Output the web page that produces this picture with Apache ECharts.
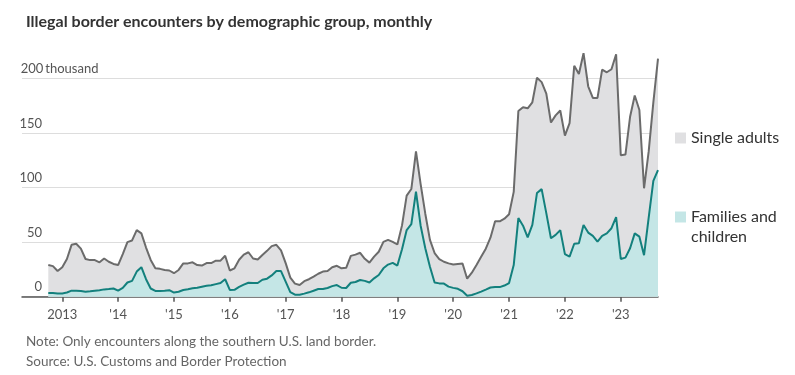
<!DOCTYPE html>
<html>
<head>
<meta charset="utf-8">
<script src="https://cdn.jsdelivr.net/npm/echarts@6/dist/echarts.min.js"></script>
<style>
  html, body { margin: 0; padding: 0; background: #fff; }
  #chart { width: 795px; height: 375px; }
</style>
</head>
<body>
<div id="chart"></div>
<script>
// monthly, Oct 2012 - Sep 2023 (fiscal years 2013-2023), thousands
var startYear = 2012;
var startMonth = 10;

var families = [
  3.5, 3.4, 3, 3, 3.8, 5.5, 5.5, 5.2, 4.6, 5, 5.5, 6,
  6.7, 7, 7.5, 5.5, 8, 13, 14.5, 23, 27, 16, 7.5, 5.3,
  5.2, 5.5, 6, 3.8, 4.5, 6.1, 6.8, 7.8, 8.2, 9.2, 10, 10.5,
  11.5, 12.5, 16, 6.2, 6.3, 9, 11, 12.8, 12.5, 12.5, 15.5, 16.5,
  19.5, 23.5, 23.5, 13.8, 4.2, 1.8, 1.8, 2.8, 4, 5.5, 7, 7,
  8, 9.7, 10.7, 8.2, 8, 12.8, 13.5, 15.3, 14.5, 13, 16.8, 19.9,
  26, 29.4, 31, 28.5, 43.5, 61, 66.5, 96.3, 65, 44.4, 27.5, 13,
  12.2, 12, 9.2, 8.1, 7.2, 5, 0.8, 1.5, 3, 4.7, 6.5, 8.4,
  8.9, 8.8, 10.2, 12.5, 29, 72, 65, 54.4, 65.7, 95, 98.5, 76.5,
  53.5, 56.6, 61, 39, 36.7, 48.5, 49, 65.7, 58.7, 55.7, 50.5, 55.7,
  58, 62.7, 72.8, 34.6, 35.8, 44.3, 58, 55, 38, 72.5, 106, 116
];

var singleAdults = [
  25.5, 24.6, 20.5, 24, 30.7, 42, 43, 38.8, 29.9, 28.5, 28, 25.5,
  28.3, 25, 22.5, 23.5, 31, 37, 37, 38, 31, 29, 26.2, 20.7,
  20.3, 19, 18, 17.7, 20, 24.4, 23.7, 23.7, 20.8, 19.3, 20.8, 20.3,
  21.5, 20.5, 21.5, 17.8, 19.7, 24.8, 27.5, 27.9, 22.5, 21.5, 22.7, 25.5,
  26.8, 24, 19, 16.9, 13.3, 10.2, 8.9, 11.4, 12, 12.9, 14, 16,
  15.5, 17.3, 17.6, 17.8, 18.4, 24.6, 25, 24.9, 20.2, 18.2, 19.9, 21.3,
  24.2, 22.6, 19.2, 19.3, 21.8, 31.5, 32.1, 36.7, 38, 31.6, 24.5, 27,
  22.3, 20, 21.3, 21.4, 22.8, 25.4, 15.7, 20.5, 26, 31.8, 37.5, 45.6,
  60.1, 60.2, 61.2, 63, 67, 98, 108.5, 118.1, 112.3, 105.5, 98, 109.5,
  106, 109.4, 109.5, 108.5, 122.3, 163, 155, 157.3, 134, 126.3, 131.5, 152.3,
  147.5, 145.6, 149.2, 94.9, 94.4, 120.4, 126.2, 116, 61.3, 60.5, 72, 102
];

var tickYears = [2013, 2014, 2015, 2016, 2017, 2018, 2019, 2020, 2021, 2022, 2023];
var tickLabels = ['2013', "'14", "'15", "'16", "'17", "'18", "'19", "'20", "'21", "'22", "'23"];
var yTicks = [0, 50, 100, 150, 200];

// x = month index counted from the first month (Oct 2012 = 0)
function monthIndex(year, month) {
  return (year - startYear) * 12 + (month - startMonth);
}
var tickPos = tickYears.map(function (y) { return monthIndex(y, 1); });

// single adults sit on top of families and children (stacked)
var familyPoints = families.map(function (v, i) { return [i, v]; });
var stackedPoints = singleAdults.map(function (v, i) { return [i, v + families[i]]; });

var font = 'Lato';
var grayArea = '#e0e0e2';
var tealArea = '#c4e6e6';

var chart = echarts.init(document.getElementById('chart'));
chart.setOption({
  animation: false,
  textStyle: { fontFamily: font },
  title: [{
    text: 'Illegal border encounters by demographic group, monthly',
    left: 21,
    top: 9,
    textStyle: { fontFamily: font, fontSize: 16, fontWeight: 'bold', color: '#333' }
  }, {
    text: 'Note: Only encounters along the southern U.S. land border.\nSource: U.S. Customs and Border Protection',
    left: 21,
    top: 327,
    textStyle: { fontFamily: font, fontSize: 13.5, fontWeight: 'normal', color: '#666', lineHeight: 19.5 }
  }],
  grid: { left: 22, right: 137, top: 34.6, bottom: 78.3 },
  legend: [{
    data: [{ name: 'Single adults', itemStyle: { color: grayArea } }],
    left: 670,
    top: 123,
    icon: 'rect',
    itemWidth: 11,
    itemHeight: 11,
    selectedMode: false,
    textStyle: { fontFamily: font, fontSize: 16, color: '#333', lineHeight: 20 }
  }, {
    data: [{ name: 'Families and children', itemStyle: { color: tealArea } }],
    // empty first line keeps the square level with "Families and"
    formatter: function () { return ' \nFamilies and\nchildren'; },
    left: 670,
    top: 182,
    icon: 'rect',
    itemWidth: 11,
    itemHeight: 11,
    selectedMode: false,
    textStyle: { fontFamily: font, fontSize: 16, color: '#333', lineHeight: 20 }
  }],
  xAxis: {
    type: 'value',
    min: -5.65,
    max: families.length - 1,
    splitLine: { show: false },
    axisLine: { lineStyle: { color: '#555', width: 1.5 } },
    axisTick: {
      customValues: tickPos,
      length: 5,
      lineStyle: { color: '#555', width: 1.5 }
    },
    axisLabel: {
      customValues: tickPos,
      margin: 12,
      fontSize: 13,
      color: '#555',
      formatter: function (v) {
        var k = tickPos.indexOf(Math.round(v));
        return k >= 0 ? tickLabels[k] : '';
      }
    }
  },
  yAxis: {
    type: 'value',
    min: 0,
    max: 240,
    interval: 50,
    axisLine: { show: false },
    axisTick: { show: false },
    splitLine: { showMaxLine: false, lineStyle: { color: '#dddddd', width: 1 } },
    axisLabel: {
      inside: true,
      margin: 0,
      showMaxLabel: false,
      verticalAlign: 'bottom',
      padding: [0, 0, 3, 0],
      fontSize: 13,
      color: '#555',
      formatter: function (v) {
        if (yTicks.indexOf(v) < 0) return '';
        return '{n|' + v + '}' + (v === 200 ? ' thousand' : '');
      },
      rich: {
        n: { width: 20, align: 'right', fontSize: 13, color: '#555', fontFamily: font }
      }
    }
  },
  series: [{
    name: 'Single adults',
    type: 'line',
    data: stackedPoints,
    symbol: 'none',
    z: 2,
    itemStyle: { color: grayArea },
    lineStyle: { color: '#6b6b6b', width: 2 },
    areaStyle: { color: grayArea, opacity: 1 }
  }, {
    name: 'Families and children',
    type: 'line',
    data: familyPoints,
    symbol: 'none',
    z: 3,
    itemStyle: { color: tealArea },
    lineStyle: { color: '#13807d', width: 2 },
    areaStyle: { color: tealArea, opacity: 1 }
  }]
});
</script>
</body>
</html>
